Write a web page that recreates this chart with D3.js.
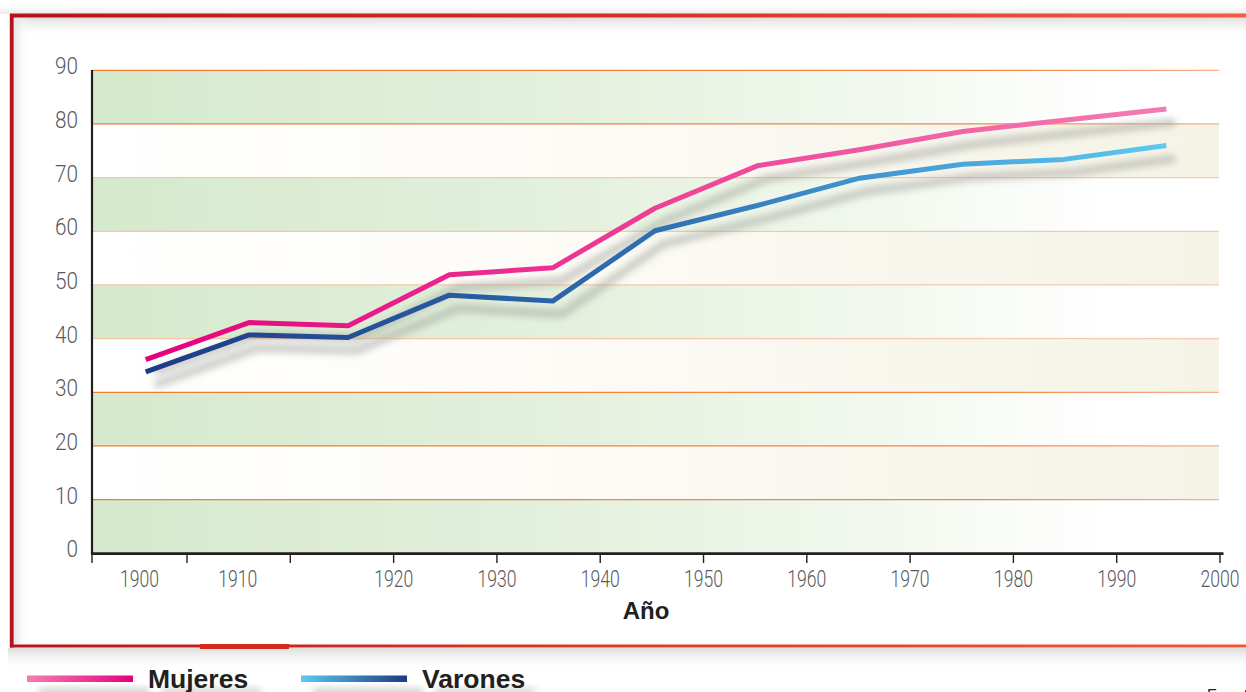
<!DOCTYPE html>
<html lang="es">
<head>
    <meta charset="UTF-8">
    <title>Esperanza de vida</title>
    <script src="https://d3js.org/d3.v7.min.js"></script>
    <style>
        body { margin: 0; padding: 0; background: #ffffff; overflow: hidden; }
        svg { display: block; }
        .tick-label { font-family: Roboto, "DejaVu Sans Condensed", sans-serif; font-weight: 300; fill: #58595b; }
    </style>
</head>
<body>
    <svg id="chart" width="1246" height="692"></svg>

    <script>
        // valores (posición en años tal como están dibujados)
        const anios = [1896, 1906, 1915.6, 1925.4, 1935.4, 1945.3, 1955.2, 1965.1, 1975.1, 1984.9, 1994.8];
        const mujeres = [36.1, 43.0, 42.4, 51.9, 53.2, 64.3, 72.2, 75.2, 78.6, 80.7, 82.8];
        const varones = [33.8, 40.7, 40.2, 48.1, 47.0, 60.1, 64.8, 69.9, 72.5, 73.4, 76.0];

        const xTicks = [1890.8, 1900, 1910, 1920, 1930, 1940, 1950, 1960, 1970, 1980, 1990, 2000];
        const xLabels = ["1900", "1910", "1920", "1930", "1940", "1950", "1960", "1970", "1980", "1990", "2000"];
        const xLabelPos = [1895.4, 1904.9, 1920, 1930, 1940, 1950, 1960, 1970, 1980, 1990, 2000];
        const yTicks = [0, 10, 20, 30, 40, 50, 60, 70, 80, 90];

        let svg = d3.select("#chart");
        let x = d3.scaleLinear().domain([1890.8, 2000]).range([92, 1220]);
        let y = d3.scaleLinear().domain([0, 90]).range([553.3, 70.3]);
        let right = 1219;

        let defs = svg.append("defs");

        function linGrad(id, stops, x1, x2, vertical) {
            let g = defs.append("linearGradient").attr("id", id);
            if (vertical) {
                g.attr("x1", 0).attr("y1", 0).attr("x2", 0).attr("y2", 1);
            } else if (x1 !== undefined) {
                g.attr("gradientUnits", "userSpaceOnUse")
                    .attr("x1", x1).attr("x2", x2).attr("y1", 0).attr("y2", 0);
            }
            stops.forEach(s => {
                g.append("stop").attr("offset", s[0]).attr("stop-color", s[1])
                    .attr("stop-opacity", s[2] === undefined ? 1 : s[2]);
            });
        }

        linGrad("bandGreen", [[0, "#d5e9cc"], [0.4, "#e3f0dc"], [0.7, "#f2f8ee"], [0.9, "#ffffff"], [1, "#ffffff"]], 92, right);
        linGrad("bandCream", [[0, "#ffffff"], [0.35, "#fdfcf8"], [0.7, "#f8f7ee"], [1, "#f4f3e6"]], 92, right);
        linGrad("gridStrong", [[0, "#f47a30"], [0.8, "#f4864a"], [1, "#f6b08e"]], 92, right);
        linGrad("gridLight", [[0, "#f9c4a4"], [1, "#f8c8b0"]], 92, right);
        linGrad("lineMuj", [[0, "#e5007d"], [0.5, "#ee3f97"], [1, "#f27db2"]], x(anios[0]), x(anios[anios.length - 1]));
        linGrad("lineVar", [[0, "#1c3a85"], [0.5, "#2f6fb1"], [0.8, "#4aa6dd"], [1, "#5cc9f2"]], x(anios[0]), x(anios[anios.length - 1]));
        linGrad("legMuj", [[0, "#f27db2"], [1, "#e5007d"]]);
        linGrad("legVar", [[0, "#5cc9f2"], [1, "#1c3a85"]]);
        linGrad("frameTop", [[0, "#b8121b"], [0.5, "#d8301f"], [1, "#f75a3e"]], 10, 1246);
        linGrad("frameBottom", [[0, "#b8121b"], [0.4, "#d63422"], [1, "#f25536"]], 10, 1246);
        linGrad("shadeDown", [[0, "#dcdcdc"], [1, "#ffffff", 0]], undefined, undefined, true);
        linGrad("shadeUp", [[0, "#ffffff", 0], [1, "#ececec"]], undefined, undefined, true);
        linGrad("shadeRight", [[0, "#e2e2e2"], [1, "#ffffff", 0]]);

        let blur = defs.append("filter").attr("id", "blur")
            .attr("x", "-10%").attr("y", "-50%").attr("width", "120%").attr("height", "200%");
        blur.append("feGaussianBlur").attr("stdDeviation", 3.6);

        // marco
        svg.append("rect").attr("x", 0).attr("y", 0).attr("width", 1246).attr("height", 14).attr("fill", "url(#shadeUp)");
        svg.append("rect").attr("x", 13).attr("y", 17).attr("width", 1233).attr("height", 20).attr("fill", "url(#shadeDown)");
        svg.append("rect").attr("x", 13).attr("y", 17).attr("width", 16).attr("height", 627).attr("fill", "url(#shadeRight)");
        svg.append("rect").attr("x", 8).attr("y", 648).attr("width", 1238).attr("height", 22).attr("fill", "url(#shadeDown)");

        svg.append("line").attr("x1", 10).attr("x2", 1246).attr("y1", 15.5).attr("y2", 15.5)
            .attr("stroke", "url(#frameTop)").attr("stroke-width", 3.8);
        svg.append("line").attr("x1", 10).attr("x2", 1246).attr("y1", 646).attr("y2", 646)
            .attr("stroke", "url(#frameBottom)").attr("stroke-width", 3.2);
        svg.append("line").attr("x1", 11.7).attr("x2", 11.7).attr("y1", 14).attr("y2", 647.5)
            .attr("stroke", "#b5121b").attr("stroke-width", 3.8);
        svg.append("rect").attr("x", 200).attr("y", 644).attr("width", 89).attr("height", 5).attr("fill", "#d22c1e");

        // bandas de fondo
        let bands = d3.range(0, 90, 10);
        svg.append("g").selectAll("rect").data(bands).join("rect")
            .attr("x", 92)
            .attr("y", d => y(d + 10))
            .attr("width", right - 92)
            .attr("height", d => y(d) - y(d + 10))
            .attr("fill", d => (d / 10) % 2 === 0 ? "url(#bandGreen)" : "url(#bandCream)");

        // líneas de rejilla
        let strong = [10, 20, 30, 80, 90];
        svg.append("g").selectAll("line").data(yTicks.slice(1)).join("line")
            .attr("x1", 92).attr("x2", right)
            .attr("y1", d => y(d)).attr("y2", d => y(d))
            .attr("stroke", d => strong.includes(d) ? "url(#gridStrong)" : "url(#gridLight)")
            .attr("stroke-width", 1.3);

        // series
        let line = d3.line().x(d => x(d[0])).y(d => y(d[1]));
        let series = [
            { values: varones, grad: "url(#lineVar)" },
            { values: mujeres, grad: "url(#lineMuj)" }
        ];

        series.forEach(s => {
            let pts = anios.map((a, i) => [a, s.values[i]]);
            svg.append("path").datum(pts)
                .attr("d", line)
                .attr("fill", "none")
                .attr("stroke", "#9a9c96")
                .attr("stroke-opacity", 0.5)
                .attr("stroke-width", 8)
                .attr("transform", "translate(9,13)")
                .attr("filter", "url(#blur)");
        });
        series.forEach(s => {
            let pts = anios.map((a, i) => [a, s.values[i]]);
            svg.append("path").datum(pts)
                .attr("d", line)
                .attr("fill", "none")
                .attr("stroke", s.grad)
                .attr("stroke-width", 5)
                .attr("stroke-linejoin", "round");
        });

        // ejes
        svg.append("line").attr("x1", 92).attr("x2", 92).attr("y1", 70).attr("y2", 554.5)
            .attr("stroke", "#231f20").attr("stroke-width", 2.2);
        svg.append("line").attr("x1", 91).attr("x2", 1223.5).attr("y1", 553.6).attr("y2", 553.6)
            .attr("stroke", "#231f20").attr("stroke-width", 2.6);

        svg.append("g").selectAll("line").data(xTicks).join("line")
            .attr("x1", d => x(d)).attr("x2", d => x(d))
            .attr("y1", 553).attr("y2", 563)
            .attr("stroke", "#231f20").attr("stroke-width", 1.4);

        svg.append("g").selectAll("text").data(xLabels).join("text")
            .attr("class", "tick-label")
            .attr("x", (d, i) => x(xLabelPos[i]))
            .attr("y", 587)
            .attr("text-anchor", "middle")
            .attr("font-size", "23px")
            .attr("textLength", 39)
            .attr("lengthAdjust", "spacingAndGlyphs")
            .text(d => d);

        svg.append("g").selectAll("text").data(yTicks).join("text")
            .attr("class", "tick-label")
            .attr("x", 78)
            .attr("y", d => y(d) + 4)
            .attr("text-anchor", "end")
            .attr("font-size", "23.5px")
            .attr("textLength", d => String(d).length * 11.5)
            .attr("lengthAdjust", "spacingAndGlyphs")
            .text(d => d);

        svg.append("text")
            .attr("x", 646).attr("y", 619)
            .attr("text-anchor", "middle")
            .attr("font-family", "Liberation Sans, Arial, sans-serif")
            .attr("font-weight", "bold")
            .attr("font-size", "24px")
            .attr("fill", "#231f20")
            .text("Año");

        // leyenda
        let legend = [
            { label: "Mujeres", grad: "url(#legMuj)", x: 27 },
            { label: "Varones", grad: "url(#legVar)", x: 301 }
        ];
        legend.forEach(l => {
            svg.append("rect").attr("x", l.x + 12).attr("y", 688).attr("width", 110).attr("height", 8)
                .attr("fill", "#9a9a9a").attr("opacity", 0.45).attr("filter", "url(#blur)");
            svg.append("rect").attr("x", l.x + 134).attr("y", 688).attr("width", 100).attr("height", 8)
                .attr("fill", "#9a9a9a").attr("opacity", 0.4).attr("filter", "url(#blur)");
            svg.append("rect").attr("x", l.x).attr("y", 675.5).attr("width", 106).attr("height", 6.5)
                .attr("fill", l.grad);
            svg.append("text")
                .attr("x", l.x + 121).attr("y", 688)
                .attr("font-family", "Liberation Sans, Arial, sans-serif")
                .attr("font-weight", "bold")
                .attr("font-size", "26.5px")
                .attr("fill", "#231f20")
                .text(l.label);
        });

        svg.append("text")
            .attr("x", 1207).attr("y", 701)
            .attr("font-family", "Liberation Sans, Arial, sans-serif")
            .attr("font-size", "16px")
            .attr("fill", "#231f20")
            .text("Fuente: INE");
    </script>
</body>
</html>
